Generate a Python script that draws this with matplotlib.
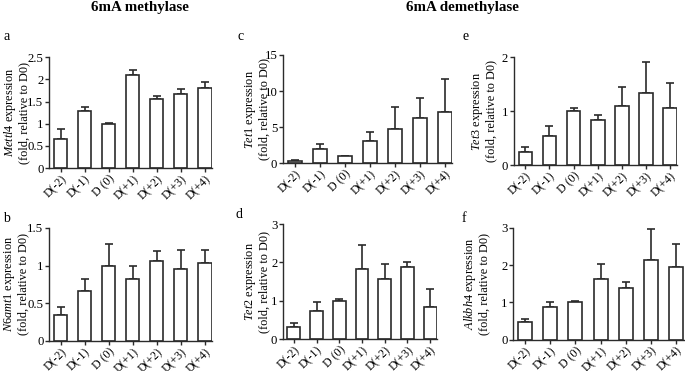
import matplotlib
matplotlib.use('Agg')
import matplotlib.pyplot as plt

plt.rcParams['font.family'] = ['Liberation Serif', 'DejaVu Serif']
plt.rcParams['mathtext.fontset'] = 'custom'
plt.rcParams['mathtext.rm'] = 'Liberation Serif'
plt.rcParams['mathtext.it'] = 'Liberation Serif:italic'

# ---------------------------------------------------------------------------
# data
# ---------------------------------------------------------------------------
days = ["D(-2)", "D(-1)", "D (0)", "D(+1)", "D(+2)", "D(+3)", "D(+4)"]

mettl4 = [0.65, 1.28, 1.00, 2.09, 1.55, 1.68, 1.80]
mettl4_err = [0.24, 0.09, 0.02, 0.13, 0.08, 0.11, 0.14]

n6amt1 = [0.34, 0.66, 1.00, 0.82, 1.06, 0.96, 1.03]
n6amt1_err = [0.11, 0.16, 0.28, 0.18, 0.13, 0.25, 0.18]

tet1 = [0.31, 1.96, 0.98, 3.10, 4.80, 6.20, 7.10]
tet1_err = [0.09, 0.71, 0.04, 1.26, 2.93, 2.80, 4.50]

tet2 = [0.32, 0.74, 1.00, 1.83, 1.56, 1.89, 0.84]
tet2_err = [0.09, 0.22, 0.05, 0.63, 0.40, 0.13, 0.47]

tet3 = [0.25, 0.53, 1.00, 0.83, 1.09, 1.34, 1.05]
tet3_err = [0.08, 0.19, 0.05, 0.09, 0.35, 0.57, 0.48]

alkbh4 = [0.47, 0.88, 1.00, 1.63, 1.40, 2.15, 1.96]
alkbh4_err = [0.09, 0.12, 0.04, 0.40, 0.16, 0.81, 0.60]

EDGE = '#2b2b2b'
W, H = 685, 371


def panel(ax, vals, errs, gene, ymax, yticks, yticklabels, label_dx):
    x = range(len(days))
    ax.bar(x, vals, width=0.56, color='white', edgecolor=EDGE, linewidth=1.2, zorder=2)
    ax.errorbar(x, vals, yerr=[[0] * len(vals), errs], fmt='none', ecolor=EDGE,
                elinewidth=1.2, capsize=2.6, capthick=1.2, zorder=1)
    ax.set_xlim(-0.48, 6.3)
    ax.set_ylim(0, ymax)
    ax.set_yticks(yticks)
    ax.set_yticklabels(yticklabels, fontsize=9.2)
    ax.set_xticks(list(x))
    ax.set_xticklabels(days, rotation=45, ha='right', rotation_mode='anchor', fontsize=8.6)
    for s in ['top', 'right']:
        ax.spines[s].set_visible(False)
    for s in ['left', 'bottom']:
        ax.spines[s].set_color(EDGE)
        ax.spines[s].set_linewidth(1.0)
    ax.tick_params(axis='y', direction='out', length=3, width=1.0, color=EDGE, pad=1)
    ax.tick_params(axis='x', direction='out', length=3, width=1.0, color=EDGE, pad=0.5)
    ax.set_ylabel('$\\mathit{' + gene + '}$ expression\n(fold, relative to D0)',
                  fontsize=8.8, linespacing=1.05)
    ax.yaxis.label.set_va('center')
    # put the two-line label at a fixed pixel offset from the spine
    ax_w = ax.get_position().width * W
    ax.yaxis.set_label_coords(-label_dx / ax_w, 0.5)


fig = plt.figure(figsize=(6.85, 3.71), dpi=100)

ax_a = fig.add_axes([0.0715, 0.547, 0.238, 0.299])
ax_b = fig.add_axes([0.0715, 0.081, 0.238, 0.305])
ax_c = fig.add_axes([0.413, 0.560, 0.247, 0.292])
ax_d = fig.add_axes([0.413, 0.086, 0.225, 0.310])
ax_e = fig.add_axes([0.750, 0.555, 0.239, 0.291])
ax_f = fig.add_axes([0.749, 0.084, 0.249, 0.302])

panel(ax_a, mettl4, mettl4_err, 'Mettl4', 2.5,
      [0, 0.5, 1, 1.5, 2, 2.5], ['0', '0.5', '1', '1.5', '2', '2.5'], 33)
panel(ax_b, n6amt1, n6amt1_err, 'N6amt1', 1.5,
      [0, 0.5, 1, 1.5], ['0', '0.5', '1', '1.5'], 33)
panel(ax_c, tet1, tet1_err, 'Tet1', 15,
      [0, 5, 10, 15], ['0', '5', '10', '15'], 26)
panel(ax_d, tet2, tet2_err, 'Tet2', 3,
      [0, 1, 2, 3], ['0', '1', '2', '3'], 26)
panel(ax_e, tet3, tet3_err, 'Tet3', 2,
      [0, 1, 2], ['0', '1', '2'], 30)
panel(ax_f, alkbh4, alkbh4_err, 'Alkbh4', 3,
      [0, 1, 2, 3], ['0', '1', '2', '3'], 37)

# headers and panel letters
fig.text(140 / W, 1 - 8 / H, '6mA methylase', fontsize=10.8, fontweight='bold',
         ha='center', va='center')
fig.text(462 / W, 1 - 8 / H, '6mA demethylase', fontsize=10.8, fontweight='bold',
         ha='center', va='center')
for lab, xp, yp in [('a', 3, 36), ('b', 3, 218), ('c', 238, 36),
                    ('d', 236, 215), ('e', 462, 36), ('f', 462, 218)]:
    fig.text(xp / W, 1 - yp / H, lab, fontsize=10, ha='left', va='center')

fig.savefig('out.png', dpi=100)
